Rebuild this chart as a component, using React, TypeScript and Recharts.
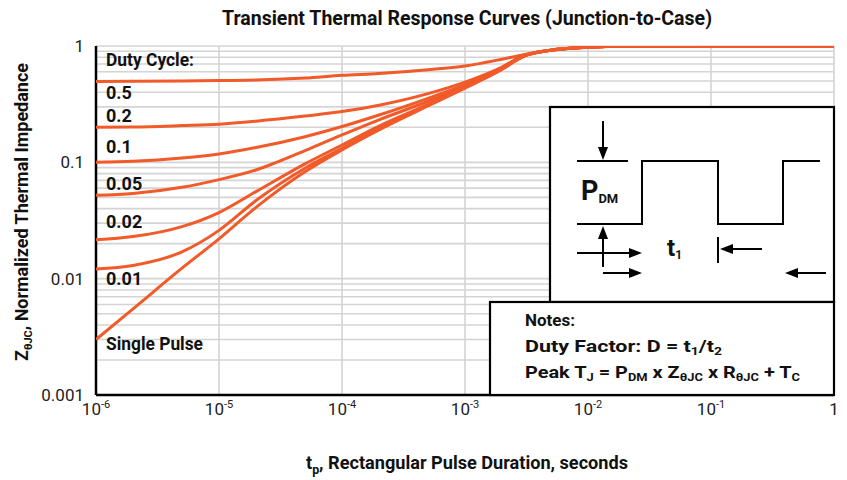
import React from 'react';
import { LineChart, Line, XAxis, YAxis, CartesianGrid } from 'recharts';

// pulse durations (s) where the curves were read
const pulseTimes = [1e-6, 2e-6, 5e-6, 1e-5, 2e-5, 5e-5, 1e-4, 2e-4, 5e-4, 1e-3, 2e-3, 3e-3, 5e-3, 1e-2, 2e-2, 1e-1, 1];

// normalized Z values, one list per duty cycle
const duty05 = [0.495, 0.497, 0.5, 0.505, 0.51, 0.53, 0.56, 0.58, 0.625, 0.674, 0.77, 0.84, 0.92, 0.975, 0.995, 1, 1];
const duty02 = [0.2, 0.201, 0.207, 0.213, 0.226, 0.25, 0.273, 0.31, 0.39, 0.49, 0.66, 0.83, 0.92, 0.975, 0.995, 1, 1];
const duty01 = [0.1, 0.102, 0.109, 0.118, 0.134, 0.166, 0.203, 0.255, 0.355, 0.465, 0.65, 0.825, 0.92, 0.975, 0.995, 1, 1];
const duty005 = [0.052, 0.054, 0.061, 0.071, 0.086, 0.126, 0.172, 0.232, 0.335, 0.455, 0.645, 0.82, 0.92, 0.975, 0.995, 1, 1];
const duty002 = [0.0216, 0.023, 0.028, 0.037, 0.056, 0.097, 0.141, 0.205, 0.315, 0.445, 0.64, 0.82, 0.92, 0.975, 0.995, 1, 1];
const duty001 = [0.0121, 0.013, 0.017, 0.026, 0.047, 0.089, 0.132, 0.198, 0.31, 0.44, 0.635, 0.82, 0.92, 0.975, 0.995, 1, 1];
const singlePulse = [0.003, 0.0055, 0.0123, 0.022, 0.041, 0.083, 0.128, 0.19, 0.305, 0.435, 0.63, 0.815, 0.92, 0.975, 0.995, 1, 1];

const xTicks = [1e-6, 1e-5, 1e-4, 1e-3, 1e-2, 1e-1, 1];
const xTickExp = ['-6', '-5', '-4', '-3', '-2', '-1', ''];
const yDecades = [0.001, 0.01, 0.1, 1];
const yDecadeLabels = ['0.001', '0.01', '0.1', '1'];
const yMinor = [2, 3, 4, 5, 6, 7, 8, 9];

const curveLabels = ['Duty Cycle:', '0.5', '0.2', '0.1', '0.05', '0.02', '0.01', 'Single Pulse'];

const ORANGE = '#f15a29';
const FONT = "'Liberation Sans Narrow', 'Roboto', 'Liberation Sans', sans-serif";

const series = [duty05, duty02, duty01, duty005, duty002, duty001, singlePulse].map((vals) =>
  vals.map((z, i) => ({ t: pulseTimes[i], z }))
);

const yTicks: number[] = [];
yDecades.slice(0, 3).forEach((d) => {
  yTicks.push(d);
  yMinor.forEach((m) => yTicks.push(+(d * m).toPrecision(3)));
});
yTicks.push(1);

const XTick = (props: any) => {
  const { x, y, payload } = props;
  const idx = xTicks.findIndex((v) => Math.abs(Math.log10(v) - Math.log10(payload.value)) < 0.01);
  const exp = idx >= 0 ? xTickExp[idx] : '';
  return (
    <text x={x} y={y + 12} textAnchor="middle" fontFamily={FONT} fontSize={17} fill="#222">
      {exp === '' ? '1' : (
        <>
          10<tspan dy={-7} fontSize={11}>{exp}</tspan>
        </>
      )}
    </text>
  );
};

const YTick = (props: any) => {
  const { x, y, payload } = props;
  const idx = yDecades.findIndex((v) => Math.abs(Math.log10(v) - Math.log10(payload.value)) < 0.01);
  if (idx < 0) return null;
  return (
    <text x={x - 4} y={y + 6} textAnchor="end" fontFamily={FONT} fontSize={17} fill="#222">
      {yDecadeLabels[idx]}
    </text>
  );
};

const Arrow = ({ x1, y1, x2, y2 }: { x1: number; y1: number; x2: number; y2: number }) => {
  // line from (x1,y1) to tip (x2,y2)
  const a = Math.atan2(y2 - y1, x2 - x1);
  const L = 13, W = 5;
  const bx = x2 - L * Math.cos(a), by = y2 - L * Math.sin(a);
  const px = -Math.sin(a) * W, py = Math.cos(a) * W;
  return (
    <g>
      <line x1={x1} y1={y1} x2={bx} y2={by} stroke="#000" strokeWidth={2} />
      <polygon points={`${x2},${y2} ${bx + px},${by + py} ${bx - px},${by - py}`} fill="#000" />
    </g>
  );
};

const labelY = [66, 99, 122, 153, 190, 228, 285, 350];

export default function App() {
  return (
    <div style={{ position: 'absolute', left: 0, top: 0, width: 847, height: 480, background: '#fff' }}>
      <LineChart
        width={847}
        height={480}
        margin={{ top: 46, right: 13, bottom: 45, left: 36 }}
      >
        <CartesianGrid stroke="#d4d4d4" strokeWidth={1.6} />
        <XAxis
          dataKey="t"
          type="number"
          scale="log"
          domain={[1e-6, 1]}
          ticks={xTicks}
          allowDataOverflow
          height={40}
          tickLine={false}
          axisLine={{ stroke: '#000', strokeWidth: 2.5 }}
          tick={<XTick />}
          interval={0}
        />
        <XAxis xAxisId="top" orientation="top" type="number" scale="log" domain={[1e-6, 1]}
          ticks={[]} height={0} tick={false} tickLine={false} axisLine={{ stroke: '#000', strokeWidth: 2.5 }} />
        <YAxis
          dataKey="z"
          type="number"
          scale="log"
          domain={[0.001, 1]}
          ticks={yTicks}
          allowDataOverflow
          width={60}
          tickLine={false}
          axisLine={{ stroke: '#000', strokeWidth: 2.5 }}
          tick={<YTick />}
          interval={0}
        />
        <YAxis yAxisId="right" orientation="right" type="number" scale="log" domain={[0.001, 1]}
          ticks={[]} width={0} tick={false} tickLine={false} axisLine={{ stroke: '#000', strokeWidth: 2.5 }} />
        {series.map((d, i) => (
          <Line
            key={i}
            data={d}
            dataKey="z"
            type="monotone"
            stroke={ORANGE}
            strokeWidth={3}
            dot={false}
            isAnimationActive={false}
            zIndex={600}
          />
        ))}
      </LineChart>

      <svg width={847} height={480} style={{ position: 'absolute', left: 0, top: 0, pointerEvents: 'none' }}>
        <g fontFamily={FONT} fontWeight="bold" fill="#111">
          <text x={467} y={25} textAnchor="middle" fontSize={20} textLength={490} lengthAdjust="spacingAndGlyphs">
            Transient Thermal Response Curves (Junction-to-Case)
          </text>
          <text x={467} y={469} textAnchor="middle" fontSize={19} textLength={322} lengthAdjust="spacingAndGlyphs">
            t<tspan dy={5} fontSize={13}>p</tspan><tspan dy={-5}>, Rectangular Pulse Duration, seconds</tspan>
          </text>
          <text x={0} y={0} transform="translate(28,212) rotate(-90)" textAnchor="middle" fontSize={18}
            textLength={298} lengthAdjust="spacingAndGlyphs">
            Z<tspan dy={4} fontSize={11}>θJC</tspan><tspan dy={-4}>, Normalized Thermal Impedance</tspan>
          </text>
          {curveLabels.map((s, i) => (
            <text key={s} x={106} y={labelY[i]} fontSize={18}
              textLength={i === 0 ? 88 : i === 7 ? 97 : undefined}
              lengthAdjust="spacingAndGlyphs">
              {s}
            </text>
          ))}
        </g>

        {/* pulse diagram box */}
        <rect x={550} y={107} width={284} height={195} fill="#fff" stroke="#000" strokeWidth={2.2} />
        {/* notes box */}
        <rect x={490} y={302} width={344} height={93} fill="#fff" stroke="#000" strokeWidth={2.2} />

        <polyline points="577,224 642,224 642,161 718,161 718,224 783,224 783,161 820,161"
          fill="none" stroke="#000" strokeWidth={2} />
        <line x1={577} y1={161} x2={628} y2={161} stroke="#000" strokeWidth={2} />
        <line x1={718} y1={237} x2={718} y2={263} stroke="#000" strokeWidth={2} />
        <Arrow x1={603} y1={121} x2={603} y2={160} />
        <Arrow x1={603} y1={267} x2={603} y2={226} />
        <Arrow x1={577} y1={253} x2={642} y2={253} />
        <Arrow x1={603} y1={273} x2={642} y2={273} />
        <Arrow x1={762} y1={249} x2={720} y2={249} />
        <Arrow x1={826} y1={273} x2={785} y2={273} />

        <g fontFamily={FONT} fontWeight="bold" fill="#111">
          <text x={581} y={200} fontSize={27}>
            P<tspan dy={3} fontSize={13}>DM</tspan>
          </text>
          <text x={667} y={256} fontSize={24}>
            t<tspan dy={3} fontSize={12}>1</tspan>
          </text>
          <text x={525} y={326} fontSize={17}>Notes:</text>
          <text x={525} y={352} fontSize={17} textLength={197} lengthAdjust="spacingAndGlyphs">
            Duty Factor: D = t<tspan dy={3} fontSize={11}>1</tspan><tspan dy={-3}>/t</tspan><tspan dy={3} fontSize={11}>2</tspan>
          </text>
          <text x={525} y={378} fontSize={17} textLength={275} lengthAdjust="spacingAndGlyphs">
            Peak T<tspan dy={3} fontSize={11}>J</tspan><tspan dy={-3}> = P</tspan><tspan dy={3} fontSize={11}>DM</tspan>
            <tspan dy={-3}> x Z</tspan><tspan dy={3} fontSize={11}>θJC</tspan><tspan dy={-3}> x R</tspan>
            <tspan dy={3} fontSize={11}>θJC</tspan><tspan dy={-3}> + T</tspan><tspan dy={3} fontSize={11}>C</tspan>
          </text>
        </g>
      </svg>
    </div>
  );
}
